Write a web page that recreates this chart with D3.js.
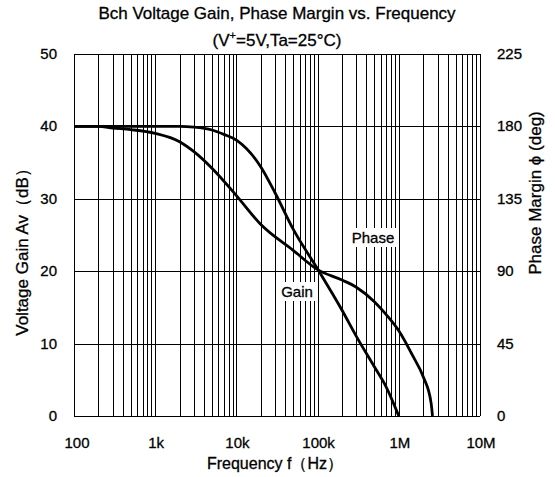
<!DOCTYPE html>
<meta charset="utf-8">
<style>
  body{ margin:0; background:#fff; }
  text{ font-family:"Liberation Sans", Arial, sans-serif; fill:#000; stroke:#000; stroke-width:0.3px; }
  .grid line{ stroke:#000; stroke-width:1; shape-rendering:crispEdges; }
  .curve{ fill:none; stroke:#000; stroke-width:2.8; stroke-linejoin:round; }
</style>
<body>
<script src="https://cdn.jsdelivr.net/npm/d3@7"></script>
<script>

  // frequency (Hz) / gain (dB)
  var gainFreq = [100, 500, 1000, 2000, 3000, 5000, 7000, 10000, 20000, 30000, 50000, 100000, 200000, 300000, 500000, 700000, 1000000];
  var gainDb   = [40, 40, 40, 40, 39.9, 39.5, 38.9, 38.1, 34.4, 30.8, 25.8, 20.3, 14.6, 11, 6.8, 4, 0];

  // frequency (Hz) / phase margin (deg)
  var phaseFreq = [100, 200, 300, 500, 1000, 2000, 3000, 5000, 10000, 20000, 50000, 100000, 200000, 300000, 500000, 700000, 1000000, 1500000, 2000000, 2500000, 2600000];
  var phaseDeg  = [180, 180, 179, 178, 175.7, 170.5, 164.3, 154, 137, 119, 103, 91, 84.5, 80, 71, 63, 53, 37, 24.4, 8, 0];

  var freqTicks  = [100, 1000, 10000, 100000, 1000000, 10000000];
  var freqLabels = ["100", "1k", "10k", "100k", "1M", "10M"];
  var gainTicks  = [0, 10, 20, 30, 40, 50];
  var phaseTicks = [0, 45, 90, 135, 180, 225];

  var W = 555, H = 477;
  var m = {left:74, right:75, top:54, bottom:61};

  var svg = d3.select("body").append("svg").attr("width", W).attr("height", H);

  var x = d3.scaleLog().domain([100, 1e7]).range([m.left, W - m.right]);
  var y = d3.scaleLinear().domain([0, 50]).range([H - m.bottom, m.top]);
  var yp = d3.scaleLinear().domain([0, 225]).range([H - m.bottom, m.top]);

  // grid: every 1..9 per decade
  var vlines = [];
  for (var d = 100; d < 1e7; d *= 10)
    for (var k = 1; k < 10; k++) vlines.push(d * k);
  vlines.push(1e7);

  var grid = svg.append("g").attr("class", "grid");
  grid.selectAll(".v").data(vlines).enter().append("line")
          .attr("x1", d=>Math.round(x(d)) + 0.5).attr("x2", d=>Math.round(x(d)) + 0.5)
          .attr("y1", y(50)).attr("y2", y(0));
  grid.selectAll(".h").data(gainTicks).enter().append("line")
          .attr("x1", x(100)).attr("x2", x(1e7))
          .attr("y1", d=>Math.round(y(d)) + 0.5).attr("y2", d=>Math.round(y(d)) + 0.5);

  var gainLine = d3.line().x((d, i)=>x(gainFreq[i])).y(d=>y(d)).curve(d3.curveMonotoneX);
  var phaseLine = d3.line().x((d, i)=>x(phaseFreq[i])).y(d=>yp(d)).curve(d3.curveMonotoneX);

  svg.append("path").attr("class", "curve").attr("d", gainLine(gainDb));
  svg.append("path").attr("class", "curve").attr("d", phaseLine(phaseDeg));

  // curve labels on white
  function tag(txt, cx, cy){
    var t = svg.append("text").attr("x", cx).attr("y", cy).attr("font-size", 15)
            .attr("text-anchor", "middle").text(txt);
    var b = t.node().getBBox();
    svg.insert("rect", function(){ return t.node(); })
            .attr("x", b.x - 3).attr("y", b.y - 1).attr("width", b.width + 6).attr("height", b.height + 2)
            .attr("fill", "#fff");
  }
  tag("Phase", 373, 243);
  tag("Gain", 297, 297);

  // tick labels
  svg.selectAll(".yl").data(gainTicks).enter().append("text")
          .attr("x", 57).attr("y", d=>y(d) + 5).attr("text-anchor", "end")
          .attr("font-size", 15).text(d=>d);
  svg.selectAll(".pl").data(phaseTicks).enter().append("text")
          .attr("x", 497).attr("y", d=>yp(d) + 5).attr("text-anchor", "start")
          .attr("font-size", 15).text(d=>d);
  svg.selectAll(".xl").data(freqTicks).enter().append("text")
          .attr("x", d=>x(d) + (d == 100 ? 3 : 1)).attr("y", 448).attr("text-anchor", "middle")
          .attr("font-size", 15).text((d, i)=>freqLabels[i]);

  // titles
  svg.append("text").attr("x", 277).attr("y", 19).attr("text-anchor", "middle")
          .attr("font-size", 17).text("Bch Voltage Gain, Phase Margin vs. Frequency");
  var sub = svg.append("text").attr("x", 277).attr("y", 46).attr("text-anchor", "middle").attr("font-size", 17);
  sub.append("tspan").text("(V");
  sub.append("tspan").attr("dy", -7).attr("font-size", 11).text("+");
  sub.append("tspan").attr("dy", 7).text("=5V,Ta=25\u00b0C)");

  svg.append("text").attr("x", 275).attr("y", 469).attr("text-anchor", "middle")
          .attr("font-size", 16).text("Frequency f\uff08Hz\uff09");
  svg.append("text").attr("transform", "translate(28,248) rotate(-90)").attr("text-anchor", "middle")
          .attr("font-size", 17).text("Voltage Gain Av\uff08dB\uff09");
  svg.append("text").attr("transform", "translate(541,193) rotate(-90)").attr("text-anchor", "middle")
          .attr("font-size", 17).text("Phase Margin \u03d5 (deg)");
</script>
</body>
</html>
